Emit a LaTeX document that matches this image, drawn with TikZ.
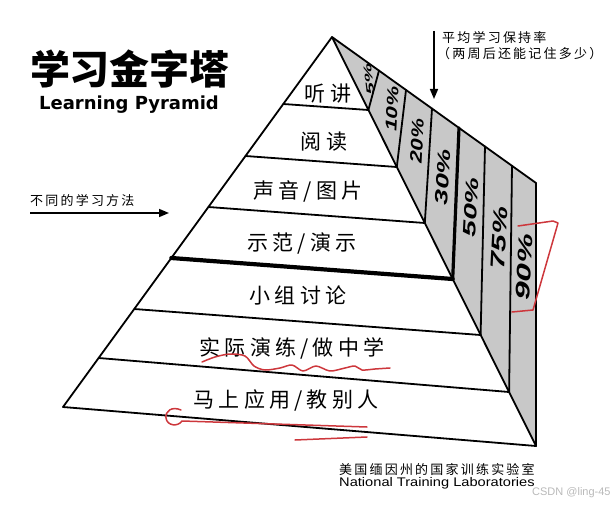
\documentclass[tikz,border=0pt]{standalone}
\usepackage{fontspec}
\setmainfont{Liberation Sans}
\newfontfamily\cjk{Noto Sans CJK SC}
\newfontfamily\cjkband[LetterSpace=20]{Noto Sans CJK SC}
\newfontfamily\cjksmall[LetterSpace=17]{Noto Sans CJK SC}
\newfontfamily\dejab{DejaVu Sans}
\usetikzlibrary{arrows.meta}
\definecolor{sidegray}{RGB}{200,200,200}
\definecolor{redpen}{RGB}{205,55,60}
\definecolor{wmgray}{RGB}{185,185,185}
\tikzset{
  edge/.style={line width=1.8pt, line join=round, line cap=round},
  thickedge/.style={line width=4.2pt, line cap=round},
  middleedge/.style={line width=3.2pt, line cap=round},
  band/.style={font=\cjkband\fontsize{21}{21}\selectfont, inner sep=0pt},
  pct/.style={font=\bfseries\itshape, inner sep=0pt},
  note/.style={font=\cjksmall\fontsize{13}{13}\selectfont, inner sep=0pt},
  pointer/.style={line width=1.6pt, -{Triangle[length=10pt,width=8pt]}},
  redline/.style={draw=redpen, line width=1.5pt, line cap=round, line join=round}
}
\begin{document}
\begin{tikzpicture}[x=1pt,y=-1pt]
\useasboundingbox (0,0) rectangle (616,505);
% key points
\coordinate (A) at (332,37);
\coordinate (L1) at (283.3,104);
\coordinate (L2) at (245.5,156);
\coordinate (L3) at (208.4,207);
\coordinate (L4) at (171.3,258);
\coordinate (L5) at (134.2,309);
\coordinate (L6) at (98.6,358);
\coordinate (L7) at (63,407);
\coordinate (R1) at (368.4,110);
\coordinate (R2) at (396.8,167);
\coordinate (R3) at (424.8,223);
\coordinate (R4) at (452.7,279);
\coordinate (R5) at (480.6,335);
\coordinate (R6) at (509.1,392);
\coordinate (R7) at (536,446);
\coordinate (T1) at (379,70.6);
\coordinate (T2) at (406,90);
\coordinate (T3) at (432,108.6);
\coordinate (T4) at (459,127.9);
\coordinate (T5) at (485,146.5);
\coordinate (T6) at (512,165.8);
\coordinate (T7) at (536,183);
% side face
\fill[sidegray] (A) -- (T7) -- (R7) -- cycle;
% bands
\draw[edge] (L1) -- (R1);
\draw[edge] (L2) -- (R2);
\draw[edge] (L3) -- (R3);
\draw[thickedge] (L4) -- (R4);
\draw[edge] (L5) -- (R5);
\draw[edge] (L6) -- (R6);
% dividers
\draw[edge] (T1) -- (R1);
\draw[edge] (T2) -- (R2);
\draw[edge] (T3) -- (R3);
\draw[middleedge] (T4) -- (R4);
\draw[edge] (T5) -- (R5);
\draw[edge] (T6) -- (R6);
% outline
\draw[edge] (A) -- (L7) -- (R7) -- (T7) -- cycle;
\draw[edge] (A) -- (R7);
% band labels
\node[band] (b1) at (328,94) {听讲};
\node[band] (b2) at (324,142) {阅读};
\node[band] (b3) at (308,191) {声音/图片};
\node[band] (b4) at (302,244) {示范/演示};
\node[band] (b5) at (298,296) {小组讨论};
\node[band] (b6) at (292,348) {实际演练/做中学};
\node[band] (b7) at (286,400) {马上应用/教别人};
% percentages
\node[pct, font=\bfseries\itshape\fontsize{11}{11}\selectfont, rotate=97, xscale=2.0] (p1) at (369,79) {5\%};
\node[pct, font=\bfseries\itshape\fontsize{16}{16}\selectfont, rotate=87, xscale=1.4] (p2) at (392,109) {10\%};
\node[pct, font=\bfseries\itshape\fontsize{17}{17}\selectfont, rotate=87, xscale=1.3] (p3) at (417,141) {20\%};
\node[pct, font=\bfseries\itshape\fontsize{18}{18}\selectfont, rotate=87, xscale=1.55] (p4) at (443,177) {30\%};
\node[pct, font=\bfseries\itshape\fontsize{18}{18}\selectfont, rotate=87, xscale=1.65] (p5) at (471,207) {50\%};
\node[pct, font=\bfseries\itshape\fontsize{20}{20}\selectfont, rotate=87, xscale=1.55] (p6) at (499,238) {75\%};
\node[pct, font=\bfseries\itshape\fontsize{20}{20}\selectfont, rotate=87, xscale=1.65] (p7) at (524,267) {90\%};
% title
\node[font=\cjk\bfseries\fontsize{40}{40}\selectfont, inner sep=0pt] (title) at (130,69) {学习金字塔};
\node[font=\dejab\bfseries\fontsize{18}{18}\selectfont, inner sep=0pt] (sub) at (129,105) {Learning Pyramid};
% retention note
\coordinate (dtop) at (434,31);
\coordinate (dtip) at (434,99);
\draw[pointer] (dtop) -- (dtip);
\node[note, anchor=west] (ret1) at (442,38) {平均学习保持率};
\node[note, anchor=west] (ret2) at (437,54) {（两周后还能记住多少）};
% methods note
\node[note, anchor=west] (meth) at (30,201) {不同的学习方法};
\coordinate (mstart) at (30,213);
\coordinate (mtip) at (169,213);
\draw[pointer] (mstart) -- (mtip);
% source
\node[note, anchor=west] (src1) at (339,469) {美国缅因州的国家训练实验室};
\node[font=\fontsize{12.5}{12.5}\selectfont, inner sep=0pt, anchor=west, xscale=1.17] (src2) at (339,483) {National Training Laboratories};
\node[font=\fontsize{11}{11}\selectfont, text=wmgray, inner sep=0pt, anchor=west] (wm) at (532,493) {CSDN @ling-45};
% red handwriting
\draw[redline] (518,226) -- (553,221) -- (558,223) -- (533,310) -- (512,312);
\draw[redline] plot[smooth] coordinates {(202,362) (215,357) (230,354) (245,356) (254,366) (265,370) (280,368) (292,365) (303,371) (316,366) (330,371) (345,368) (355,366) (362,370) (375,369) (390,368)};
\draw[redline] (181,410) .. controls (172,406) and (165,411) .. (166,418) .. controls (167,426) and (178,427) .. (182,421) -- (367,427);
\draw[redline] (295,440) -- (367,437);
\end{tikzpicture}
\end{document}
